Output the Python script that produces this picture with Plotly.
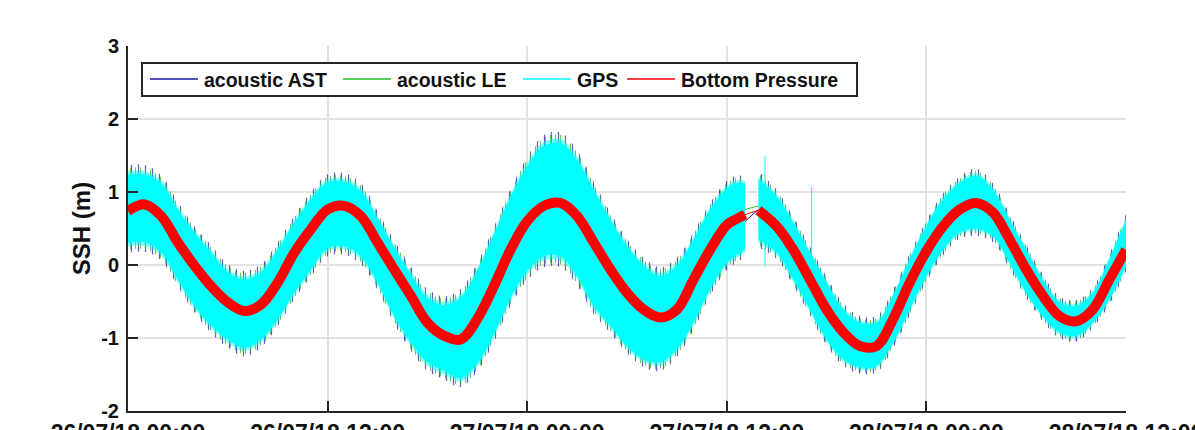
import pandas as pd
import plotly.graph_objects as go

# Sea-surface height records, hours after 26/07/18 00:00
hours = [0, 1, 2, 3, 4, 5, 6, 7, 8, 9, 10, 11, 12, 13, 14, 15, 16, 17, 18, 19,
         20, 21, 22, 23, 24, 25, 26, 27, 28, 29, 30, 31, 32, 33, 34, 35, 36,
         36.5, 37.1, 37.9, 39, 40, 41, 42, 43, 44, 45, 46, 47, 48, 49, 50, 51,
         52, 53, 54, 55, 56, 57, 58, 59, 60]

# Bottom pressure derived SSH (m)
bottom_pressure = [0.74, 0.83, 0.67, 0.31, -0.01, -0.29, -0.51, -0.63, -0.54, -0.24,
                   0.17, 0.49, 0.76, 0.81, 0.67, 0.31, -0.06, -0.42, -0.79, -0.97,
                   -1.02, -0.74, -0.29, 0.21, 0.60, 0.81, 0.85, 0.67, 0.31, -0.06,
                   -0.38, -0.61, -0.72, -0.61, -0.20, 0.21, 0.55, 0.62, 0.69, 0.75,
                   0.53, 0.21, -0.20, -0.61, -0.92, -1.11, -1.11, -0.74, -0.24, 0.19,
                   0.53, 0.76, 0.85, 0.72, 0.35, -0.06, -0.42, -0.70, -0.77, -0.61,
                   -0.20, 0.21]

# GPS SSH spread: upper and lower extent of the wave-contaminated record (m)
gps_high = [1.24, 1.24, 1.12, 0.76, 0.44, 0.17, -0.10, -0.20, -0.10, 0.21,
            0.58, 0.90, 1.13, 1.14, 1.01, 0.64, 0.24, -0.13, -0.45, -0.55,
            -0.45, -0.08, 0.42, 0.93, 1.35, 1.63, 1.67, 1.44, 1.03, 0.62,
            0.26, -0.01, -0.15, -0.01, 0.35, 0.76, 1.05, 1.12, 1.12, 1.17,
            0.94, 0.58, 0.17, -0.24, -0.61, -0.79, -0.79, -0.42, 0.08, 0.53,
            0.90, 1.12, 1.22, 1.03, 0.62, 0.21, -0.20, -0.51, -0.56, -0.38,
            0.08, 0.62]
gps_low = [0.30, 0.31, 0.17, -0.20, -0.56, -0.83, -1.02, -1.13, -1.02, -0.74,
           -0.38, -0.06, 0.23, 0.26, 0.12, -0.24, -0.70, -1.06, -1.33, -1.45,
           -1.55, -1.35, -0.95, -0.45, -0.08, 0.12, 0.12, -0.15, -0.56, -0.83,
           -1.11, -1.29, -1.33, -1.15, -0.79, -0.33, 0.03, 0.12, 0.21, 0.35,
           0.17, -0.20, -0.61, -1.02, -1.29, -1.40, -1.38, -1.06, -0.61, -0.15,
           0.21, 0.45, 0.50, 0.40, 0.03, -0.38, -0.70, -0.92, -0.97, -0.79,
           -0.47, -0.01]

# How far the acoustic spikes reach beyond the GPS spread (m)
ast_reach = [0.13, 0.13, 0.11, 0.10, 0.09, 0.10, 0.11, 0.12, 0.11, 0.10,
             0.09, 0.10, 0.11, 0.12, 0.11, 0.10, 0.10, 0.11, 0.12, 0.12,
             0.12, 0.11, 0.10, 0.11, 0.13, 0.15, 0.15, 0.13, 0.11, 0.10,
             0.10, 0.11, 0.12, 0.11, 0.10, 0.09, 0.10, 0.10, 0.10, 0.11,
             0.09, 0.08, 0.08, 0.08, 0.09, 0.09, 0.09, 0.08, 0.08, 0.08,
             0.08, 0.09, 0.10, 0.09, 0.08, 0.07, 0.07, 0.08, 0.08, 0.07,
             0.07, 0.08]
le_reach = [0.09, 0.09, 0.08, 0.07, 0.07, 0.07, 0.08, 0.09, 0.08, 0.07,
            0.07, 0.07, 0.08, 0.08, 0.08, 0.07, 0.07, 0.08, 0.09, 0.09,
            0.09, 0.08, 0.07, 0.08, 0.10, 0.11, 0.11, 0.10, 0.08, 0.07,
            0.07, 0.08, 0.09, 0.08, 0.07, 0.07, 0.07, 0.07, 0.07, 0.08,
            0.07, 0.06, 0.06, 0.06, 0.06, 0.06, 0.06, 0.06, 0.06, 0.06,
            0.06, 0.06, 0.07, 0.06, 0.06, 0.05, 0.05, 0.06, 0.06, 0.05,
            0.05, 0.06]

# Data outage in the acoustic / GPS / pressure records (hours)
gap_start, gap_end = 37.1, 37.9
# Straight joins drawn across the outage (m), start and end
ast_join = [0.60, 0.76]
le_join = [0.76, 0.81]

# Isolated GPS outliers: time (h), top and bottom (m)
gps_spike_hours = [38.3, 41.1]
gps_spike_top = [1.49, 1.07]
gps_spike_bottom = [-0.02, 0.05]

# Axis ticks
y_tick_values = [-2, -1, 0, 1, 2, 3]
y_tick_text = ["-2", "-1", "0", "1", "2", "3"]
x_tick_hours = [0, 12, 24, 36, 48, 60]
x_tick_text = ["26/07/18 00:00", "26/07/18 12:00", "27/07/18 00:00",
               "27/07/18 12:00", "28/07/18 00:00", "28/07/18 12:00"]

# Legend entries
legend_names = ["acoustic AST", "acoustic LE", "GPS", "Bottom Pressure"]

t0 = pd.Timestamp("2018-07-26 00:00")


def to_time(h):
    return t0 + pd.to_timedelta(h, unit="h")


times = [to_time(h) for h in hours]
segments = [[i for i, h in enumerate(hours) if h <= gap_start],
            [i for i, h in enumerate(hours) if h >= gap_end]]

BLUE = "#1a1aa6"
GREEN = "#20c020"
CYAN = "#00ffff"
RED = "#ff0000"
SERIES_COLORS = [BLUE, GREEN, CYAN, RED]

fig = go.Figure()
SPLINE = dict(width=0, shape="spline", smoothing=1.0)


def add_band(lo, hi, fillcolor=None, pattern=None):
    for seg in segments:
        xs = [times[i] for i in seg]
        fig.add_trace(go.Scatter(x=xs, y=[lo[i] for i in seg], mode="lines",
                                 line=SPLINE, showlegend=False, hoverinfo="skip"))
        kw = dict(fillcolor=fillcolor) if fillcolor else {}
        if pattern:
            kw["fillpattern"] = pattern
        fig.add_trace(go.Scatter(x=xs, y=[hi[i] for i in seg], mode="lines",
                                 line=SPLINE, fill="tonexty", showlegend=False,
                                 hoverinfo="skip", **kw))


ast_high = [g + r for g, r in zip(gps_high, ast_reach)]
ast_low = [g - r for g, r in zip(gps_low, ast_reach)]
le_high = [g + r for g, r in zip(gps_high, le_reach)]
le_low = [g - r for g, r in zip(gps_low, le_reach)]
gps_fringe_high = [g + r * 0.5 for g, r in zip(gps_high, le_reach)]
gps_fringe_low = [g - r * 0.5 for g, r in zip(gps_low, le_reach)]

# Acoustic spikes: hatched so the edges read as individual spikes
add_band(ast_low, ast_high, fillcolor="rgba(0,0,0,0)",
         pattern=dict(shape="|", fgcolor=BLUE, fgopacity=0.7,
                      bgcolor="rgba(0,0,0,0)", size=7, solidity=0.18))
add_band(le_low, le_high, fillcolor="rgba(0,0,0,0)",
         pattern=dict(shape="|", fgcolor=GREEN, fgopacity=0.75,
                      bgcolor="rgba(0,0,0,0)", size=5, solidity=0.22))
add_band(gps_fringe_low, gps_fringe_high, fillcolor="rgba(0,0,0,0)",
         pattern=dict(shape="|", fgcolor=CYAN, fgopacity=1,
                      bgcolor="rgba(0,0,0,0)", size=2, solidity=0.5))
add_band(gps_low, gps_high, fillcolor=CYAN)

# Joins across the outage
gap_x = [to_time(gap_start), to_time(gap_end)]
fig.add_trace(go.Scatter(x=gap_x, y=ast_join, mode="lines",
                         line=dict(color=BLUE, width=1), showlegend=False))
fig.add_trace(go.Scatter(x=gap_x, y=le_join, mode="lines",
                         line=dict(color=GREEN, width=1), showlegend=False))

# GPS outliers
sx, sy = [], []
for h, top, bot in zip(gps_spike_hours, gps_spike_top, gps_spike_bottom):
    sx += [to_time(h), to_time(h), None]
    sy += [bot, top, None]
fig.add_trace(go.Scatter(x=sx, y=sy, mode="lines", line=dict(color=CYAN, width=1),
                         showlegend=False))

# Bottom pressure
for seg in segments:
    fig.add_trace(go.Scatter(x=[times[i] for i in seg],
                             y=[bottom_pressure[i] for i in seg], mode="lines",
                             line=dict(color=RED, width=10, shape="spline", smoothing=1.0),
                             showlegend=False, hoverinfo="skip"))
i_end, i_start = segments[0][-1], segments[1][0]
fig.add_trace(go.Scatter(x=[times[i_end], times[i_start]],
                         y=[bottom_pressure[i_end], bottom_pressure[i_start]],
                         mode="lines", line=dict(color=RED, width=1), showlegend=False))

# Legend box drawn in pixel space of the figure
W, H = 1195, 430
ML, MR, MT, MB = 128, 69, 46, 19
PW, PH = W - ML - MR, H - MT - MB


def px_x(p):
    return (p - ML) / PW


def px_y(p):
    return (H - MB - p) / PH


AX = "#262626"
TXT = "#111111"
shapes = [dict(type="rect", xref="paper", yref="paper",
               x0=px_x(142), x1=px_x(857), y0=px_y(96), y1=px_y(63),
               line=dict(color=AX, width=2), fillcolor="white", layer="above")]
annotations = []
sample_starts = [150, 343, 523, 627]
for name, color, x0 in zip(legend_names, SERIES_COLORS, sample_starts):
    shapes.append(dict(type="line", xref="paper", yref="paper",
                       x0=px_x(x0), x1=px_x(x0 + 48), y0=px_y(79), y1=px_y(79),
                       line=dict(color=color, width=1.5), layer="above"))
    annotations.append(dict(text=name, xref="paper", yref="paper",
                            x=px_x(x0 + 52), y=px_y(79.5), xanchor="left",
                            yanchor="middle", showarrow=False,
                            font=dict(size=19.5, weight="bold", color=TXT)))

GRID = "#e2e2e2"
axis_common = dict(ticks="inside", ticklen=10, tickwidth=2, tickcolor=AX,
                   showline=True, linewidth=2, linecolor=AX, mirror=False,
                   showgrid=True, gridcolor=GRID, gridwidth=2, zeroline=False,
                   automargin=False)
fig.update_layout(
    width=W, height=H,
    margin=dict(l=ML, r=MR, t=MT, b=MB),
    paper_bgcolor="white", plot_bgcolor="white",
    font=dict(family="Liberation Sans", color=AX),
    showlegend=False,
    shapes=shapes, annotations=annotations,
    xaxis=dict(type="date", range=[to_time(0), to_time(60)],
               tickvals=[to_time(h) for h in x_tick_hours], ticktext=x_tick_text,
               tickfont=dict(size=23, weight="bold", color=TXT),
               ticklabelstandoff=0, ticklabeloverflow="allow", **axis_common),
    yaxis=dict(range=[-2, 3], tickvals=y_tick_values, ticktext=y_tick_text,
               tickfont=dict(size=20, weight="bold", color=TXT),
               ticklabelstandoff=3, **axis_common,
               title=dict(text="SSH (m)", standoff=4,
                          font=dict(size=24, weight="bold", color=TXT))),
)

fig.write_html("out.html")
